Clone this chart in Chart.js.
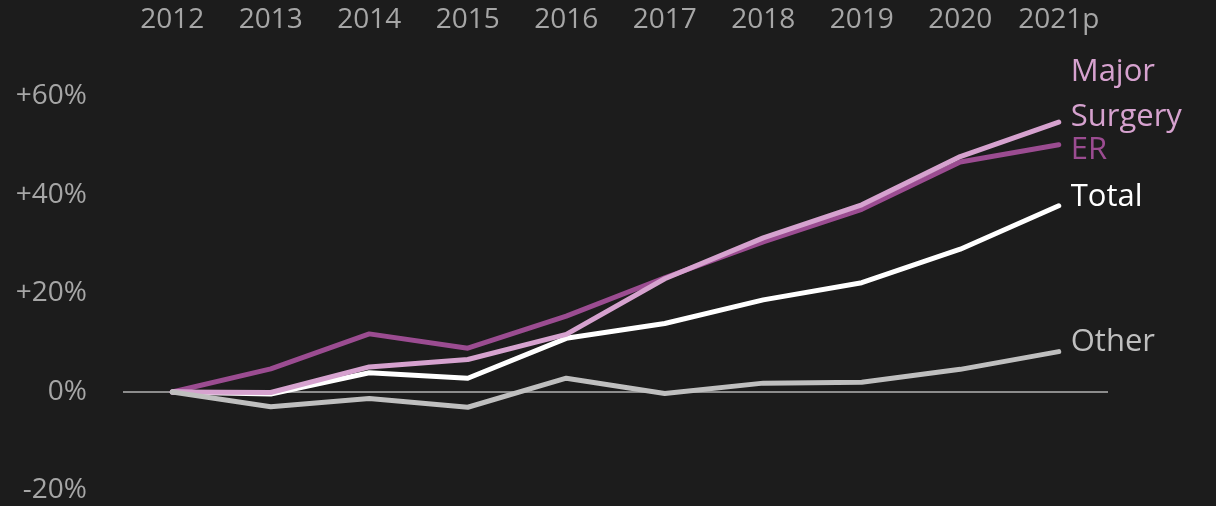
<!DOCTYPE html>
<html>
<head>
<meta charset="utf-8">
<script src="https://cdn.jsdelivr.net/npm/chart.js@4"></script>
<style>
  html, body { margin: 0; padding: 0; background: #1c1c1c; }
  #wrap { width: 1216px; height: 506px; }
</style>
</head>
<body>
<div id="wrap"><canvas id="chart"></canvas></div>
<script>
const years = ['2012','2013','2014','2015','2016','2017','2018','2019','2020','2021p'];
const erValues = [0, 4.7, 11.8, 8.9, 15.4, 23.2, 30.5, 37.1, 46.7, 50.2];
const surgeryValues = [0, -0.1, 5.1, 6.6, 11.7, 23.0, 31.3, 38.0, 47.8, 54.8];
const totalValues = [0, -0.4, 3.9, 2.8, 10.9, 13.9, 18.7, 22.2, 29.0, 37.8];
const otherValues = [0, -3.0, -1.3, -3.1, 2.8, -0.3, 1.8, 2.0, 4.6, 8.2];

const FONT = '"Open Sans", "DejaVu Sans", sans-serif';

// labels drawn at the end of each line (offsets are in pixels)
const endLabels = {
  id: 'endLabels',
  afterDatasetsDraw(chart) {
    const ctx = chart.ctx;
    ctx.save();
    ctx.font = '31px ' + FONT;
    ctx.textAlign = 'left';
    ctx.textBaseline = 'middle';
    chart.data.datasets.forEach((ds, i) => {
      const meta = chart.getDatasetMeta(i);
      const last = meta.data[meta.data.length - 1];
      ctx.fillStyle = ds.borderColor;
      ds.endText.forEach((line, j) => {
        ctx.fillText(line, last.x + 12, last.y + ds.endOffset + j * 45);
      });
    });
    ctx.restore();
  }
};

new Chart(document.getElementById('chart'), {
  type: 'line',
  data: {
    labels: years,
    datasets: [
      { label: 'Other', data: otherValues, borderColor: '#bfbfbf', endText: ['Other'], endOffset: -9 },
      { label: 'Major Surgery', data: surgeryValues, borderColor: '#d6a2cf', endText: ['Major', 'Surgery'], endOffset: -50 },
      { label: 'Total', data: totalValues, borderColor: '#ffffff', endText: ['Total'], endOffset: -9 },
      { label: 'ER', data: erValues, borderColor: '#9b4c91', endText: ['ER'], endOffset: 5 }
    ]
  },
  options: {
    responsive: true,
    maintainAspectRatio: false,
    animation: false,
    layout: { padding: { left: 0, right: 108, top: 0, bottom: 15.5 } },
    elements: {
      line: { borderWidth: 5, tension: 0, borderCapStyle: 'round', borderJoinStyle: 'round', fill: false },
      point: { radius: 0, hoverRadius: 0 }
    },
    plugins: {
      legend: { display: false },
      tooltip: { enabled: false }
    },
    scales: {
      x: {
        position: 'top',
        offset: true,
        grid: { display: false, drawTicks: false },
        border: { display: false },
        ticks: { color: '#a6a6a6', font: { family: FONT, size: 28 }, padding: 60, maxRotation: 0 },
        afterFit: s => { s.height = 96.5; }
      },
      y: {
        min: -20,
        max: 60,
        grid: {
          drawTicks: false,
          lineWidth: 2,
          color: c => c.tick && c.tick.value === 0 ? '#8c8c8c' : 'rgba(0,0,0,0)'
        },
        border: { display: false },
        ticks: {
          stepSize: 20,
          color: '#a6a6a6',
          font: { family: FONT, size: 28, lineHeight: 1 },
          padding: 36,
          callback: v => v > 0 ? '+' + v + '%' : v + '%'
        },
        afterFit: s => { s.width = 123; s.paddingTop = 0; s.paddingBottom = 0; }
      }
    }
  },
  plugins: [endLabels]
});
</script>
</body>
</html>
